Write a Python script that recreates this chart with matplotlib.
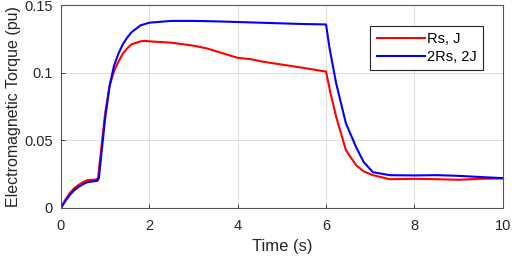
import matplotlib
matplotlib.use('Agg')
import matplotlib.pyplot as plt

plt.rcParams['font.family'] = ['Liberation Sans', 'DejaVu Sans']

# data
t_red = [0, 0.1, 0.2, 0.3, 0.4, 0.5, 0.6, 0.8, 0.84, 0.9, 1.0, 1.1, 1.2, 1.3, 1.4, 1.5,
         1.6, 1.8, 1.9, 2.0, 2.5, 3.0, 3.3, 3.6, 4.0, 4.3, 4.6, 5.0, 5.5, 6.0,
         6.1, 6.23, 6.45, 6.68, 6.85, 7.06, 7.44, 8.0, 8.5, 9.0, 9.5, 10.0]
torque_red = [0, 0.006, 0.011, 0.0145, 0.017, 0.019, 0.0205, 0.021, 0.022, 0.04, 0.07, 0.09,
              0.101, 0.108, 0.114, 0.118, 0.121, 0.1232, 0.1236, 0.1232, 0.1222, 0.120, 0.118,
              0.115, 0.111, 0.110, 0.108, 0.106, 0.1035, 0.1008,
              0.085, 0.0673, 0.0427, 0.0316, 0.027, 0.0242, 0.0212, 0.0215, 0.0212, 0.0208,
              0.0215, 0.0218]

t_blue = [0, 0.1, 0.2, 0.3, 0.4, 0.5, 0.6, 0.82, 0.86, 0.9, 1.0, 1.1, 1.2, 1.3, 1.4, 1.5,
          1.6, 1.8, 2.0, 2.3, 2.5, 3.0, 3.5, 4.0, 4.5, 5.0, 5.5, 6.0,
          6.08, 6.23, 6.45, 6.68, 6.85, 7.06, 7.44, 8.0, 8.5, 9.0, 9.5, 10.0]
torque_blue = [0, 0.005, 0.0095, 0.013, 0.0155, 0.0175, 0.019, 0.020, 0.022, 0.035, 0.066,
               0.09, 0.105, 0.114, 0.121, 0.126, 0.130, 0.135, 0.137, 0.1378, 0.1383, 0.1383,
               0.138, 0.1375, 0.137, 0.1365, 0.136, 0.1357,
               0.118, 0.092, 0.0625, 0.045, 0.034, 0.0264, 0.0242, 0.024, 0.0242, 0.0237,
               0.0228, 0.022]

labels = ['Rs, J', '2Rs, 2J']

fig = plt.figure(figsize=(5.12, 2.56), dpi=100)
ax = fig.add_axes([0.119, 0.188, 0.863, 0.792])

ax.plot(t_red, torque_red, color='#ff0000', lw=1.5, label=labels[0])
ax.plot(t_blue, torque_blue, color='#0000ff', lw=1.5, label=labels[1])

ax.set_xlim(0, 10)
ax.set_ylim(0, 0.15)
ax.set_xticks([0, 2, 4, 6, 8, 10])
ax.set_yticks([0, 0.05, 0.1, 0.15])
ax.set_yticklabels(['0', '0.05', '0.1', '0.15'])
ax.grid(True, color='#dcdcdc', lw=0.7)
ax.set_axisbelow(True)
for s in ax.spines.values():
    s.set_color('#555555')
    s.set_linewidth(0.8)
ax.tick_params(colors='#262626', labelsize=10.5, direction='in', length=3, width=0.6)
ax.tick_params(axis='x', pad=8)
ax.tick_params(axis='y', pad=6)

ax.set_xlabel('Time (s)', fontsize=12, color='#262626', labelpad=4)
ax.set_ylabel('Electromagnetic Torque (pu)', fontsize=11.5, color='#262626', labelpad=2)

leg = ax.legend(loc='upper right', bbox_to_anchor=(0.972, 0.935), fontsize=10.5,
                fancybox=False, edgecolor='#262626', framealpha=1,
                handlelength=3.3, handletextpad=0.15, borderpad=0.45, labelspacing=0.25)
leg.get_frame().set_linewidth(0.8)

fig.savefig('out.png', dpi=100)
